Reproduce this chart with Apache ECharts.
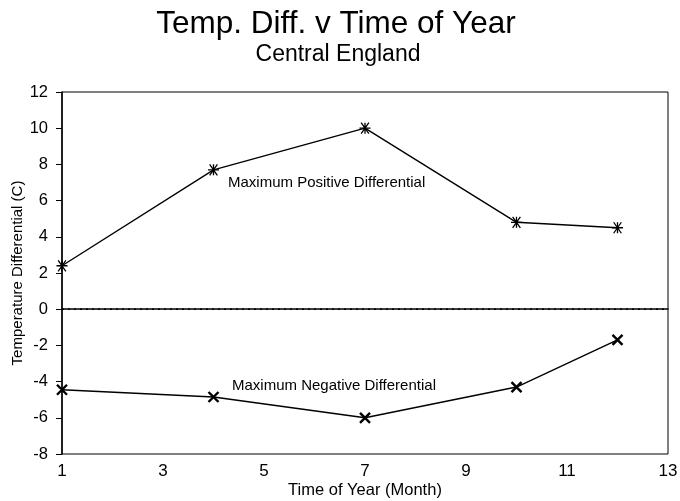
<!DOCTYPE html>
<html>
<head>
<meta charset="utf-8">
<script src="https://cdn.jsdelivr.net/npm/echarts@6/dist/echarts.min.js"></script>
<style>
  html, body { margin: 0; padding: 0; background: #fff; }
  #chart { width: 680px; height: 501px; }
</style>
</head>
<body>
<div id="chart"></div>
<script>
// Monthly maximum temperature differentials, Central England
const months = [1, 4, 7, 10, 12];
const maxPositive = [2.4, 7.7, 10.0, 4.8, 4.5];
const maxNegative = [-4.45, -4.85, -6.0, -4.3, -1.7];
const xTicks = [1, 3, 5, 7, 9, 11, 13];
const yTicks = [-8, -6, -4, -2, 0, 2, 4, 6, 8, 10, 12];
// zero reference across the full month range
const zeroLine = [[1, 0], [13, 0]];

const FONT = 'Liberation Sans, Arial, Helvetica, sans-serif';
const asterisk = 'path://M0,5L10,5M1.5,1.5L8.5,8.5M8.5,1.5L1.5,8.5M5,1.5L5,8.5';
const cross = 'path://M0,0L10,10M10,0L0,10';

const pairs = (xs, ys) => xs.map((x, i) => [x, ys[i]]);

const chart = echarts.init(document.getElementById('chart'), null, { renderer: 'canvas' });
chart.setOption({
  backgroundColor: '#fff',
  animation: false,
  title: [
    { text: 'Temp. Diff. v Time of Year', left: 331, top: 3, textAlign: 'center',
      textStyle: { fontFamily: FONT, fontSize: 31.5, fontWeight: 'normal', color: '#000' } },
    { text: 'Central England', left: 333, top: 38, textAlign: 'center',
      textStyle: { fontFamily: FONT, fontSize: 23, fontWeight: 'normal', color: '#000' } }
  ],
  grid: { left: 62, right: 12, top: 92, bottom: 47, show: true, borderColor: '#000', borderWidth: 1,
    containLabel: false, outerBoundsMode: 'none' },
  xAxis: {
    type: 'value', min: 1, max: 13, interval: 2,
    name: 'Time of Year (Month)', nameLocation: 'middle', nameGap: 28, nameMoveOverlap: false,
    nameTextStyle: { fontFamily: FONT, fontSize: 16.5, color: '#000' },
    axisLine: { lineStyle: { color: '#000', width: 1.5 } },
    axisTick: { show: false },
    axisLabel: { fontFamily: FONT, fontSize: 17, color: '#000', margin: 9,
      formatter: v => (xTicks.includes(v) ? String(v) : '') },
    splitLine: { show: false }
  },
  yAxis: {
    type: 'value', min: -8, max: 12, interval: 2,
    name: 'Temperature Differential (C)', nameLocation: 'middle', nameGap: 37, nameMoveOverlap: false,
    nameTextStyle: { fontFamily: FONT, fontSize: 15, color: '#000' },
    axisLine: { lineStyle: { color: '#000', width: 1.5 } },
    axisTick: { show: true, length: 6, lineStyle: { color: '#000' } },
    axisLabel: { fontFamily: FONT, fontSize: 16.5, color: '#000', margin: 14,
      formatter: v => (yTicks.includes(v) ? String(v) : '') },
    splitLine: { show: false }
  },
  series: [
    {
      name: 'zero',
      type: 'line',
      data: zeroLine,
      symbol: 'none',
      silent: true,
      lineStyle: { color: '#000', type: [2, 4], width: 1.5 },
      z: 1
    },
    {
      name: 'Maximum Positive Differential',
      type: 'line',
      data: pairs(months, maxPositive),
      symbol: asterisk, symbolSize: 11,
      itemStyle: { color: '#000', borderColor: '#000', borderWidth: 1.3 },
      lineStyle: { color: '#000', width: 1.4 }
    },
    {
      name: 'Maximum Negative Differential',
      type: 'line',
      data: pairs(months, maxNegative),
      symbol: cross, symbolSize: 10,
      itemStyle: { color: '#000', borderColor: '#000', borderWidth: 2.4 },
      lineStyle: { color: '#000', width: 1.4 }
    }
  ],
  graphic: [
    { type: 'text', left: 228, top: 175,
      style: { text: 'Maximum Positive Differential', font: '15px ' + FONT, fill: '#000' } },
    { type: 'text', left: 232, top: 378,
      style: { text: 'Maximum Negative Differential', font: '15px ' + FONT, fill: '#000' } }
  ]
});
</script>
</body>
</html>
